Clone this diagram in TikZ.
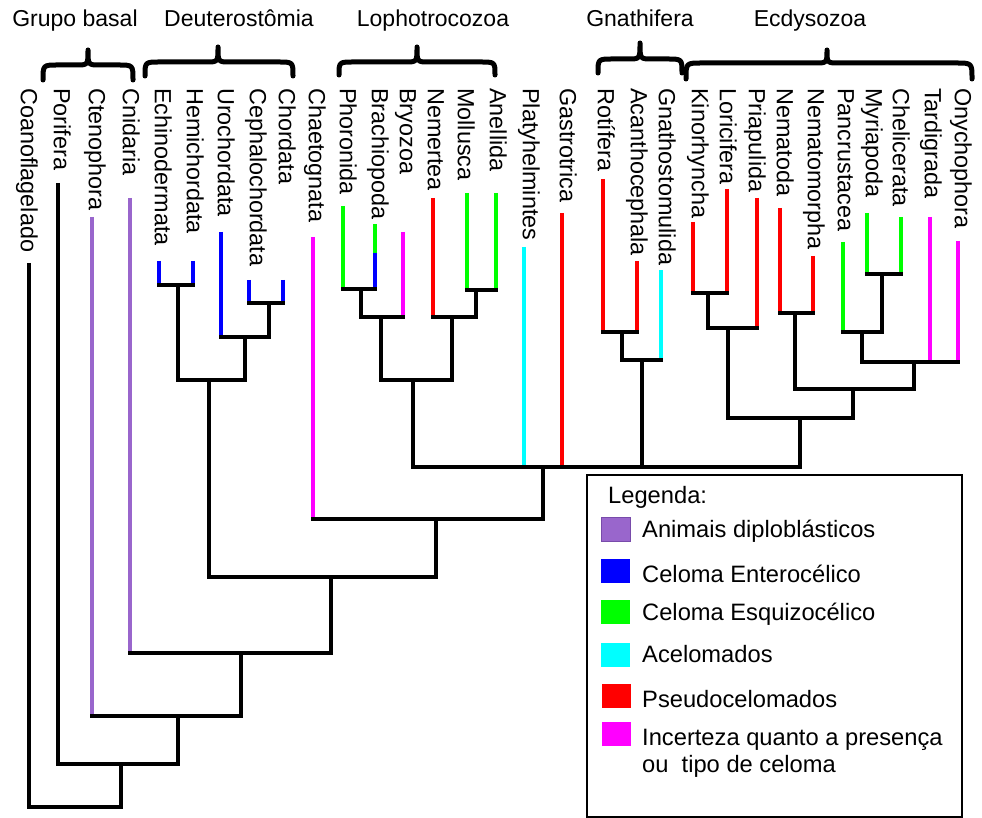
\documentclass[tikz,border=0pt]{standalone}
\usepackage{fontspec}
\setmainfont{Liberation Sans}
\definecolor{cpur}{RGB}{153,102,204}
\definecolor{cpurd}{RGB}{120,75,170}
\definecolor{cblu}{RGB}{0,0,255}
\definecolor{cgrn}{RGB}{0,255,0}
\definecolor{ccya}{RGB}{0,255,255}
\definecolor{cred}{RGB}{255,0,0}
\definecolor{cmag}{RGB}{255,0,255}
\begin{document}
\begin{tikzpicture}[x=1pt,y=-1pt,
  lab/.style={rotate=-90,anchor=west,inner sep=0pt,text height=16.5pt,text depth=0pt,font=\fontsize{23.4}{27}\selectfont},
  hdr/.style={anchor=base,inner sep=0pt,font=\fontsize{23}{27}\selectfont},
  lt/.style={anchor=base west,inner sep=0pt,font=\fontsize{23.7}{27}\selectfont},
  sw/.style={minimum width=29pt,minimum height=24pt,inner sep=0pt},
  st/.style={line width=4.2pt},
  br/.style={line width=4.2pt,line cap=rect},
  brace/.style={line width=5pt,line join=round,line cap=round}]
\useasboundingbox (0,0) rectangle (982,818);
% ---------- headers ----------
\node[hdr] (hGB) at (75,27) {Grupo basal};
\node[hdr] (hDe) at (239,27) {Deuterostômia};
\node[hdr] (hLo) at (433,27) {Lophotrocozoa};
\node[hdr] (hGn) at (640,27) {Gnathifera};
\node[hdr] (hEc) at (810,27) {Ecdysozoa};
% ---------- braces ----------
\draw[brace] (43,80) .. controls (43,65) .. (58,65) -- (76,65) .. controls (88,65) .. (88,50) .. controls (88,65) .. (100,65) -- (118,65) .. controls (133,65) .. (133,80);
\draw[brace] (145,76) .. controls (145,62) .. (160,62) -- (206,62) .. controls (218,62) .. (218,47) .. controls (218,62) .. (230,62) -- (278,62) .. controls (293,62) .. (293,76);
\draw[brace] (339,75) .. controls (339,62) .. (354,62) -- (405,62) .. controls (417,62) .. (417,47) .. controls (417,62) .. (429,62) -- (480,62) .. controls (495,62) .. (495,75);
\draw[brace] (598,73) .. controls (598,59) .. (613,59) -- (628,59) .. controls (640,59) .. (640,43) .. controls (640,59) .. (652,59) -- (667,59) .. controls (682,59) .. (682,73);
\draw[brace] (686,79) .. controls (686,63) .. (702,63) -- (815,63) .. controls (827,63) .. (827,50) .. controls (827,63) .. (839,63) -- (956,63) .. controls (972,63) .. (972,79);
% ---------- taxon labels ----------
\node[lab] (Lcoa) at (29,88) {Coanoflagelado};
\node[lab] (Lpor) at (62,88) {Porifera};
\node[lab] (Lcte) at (97,88) {Ctenophora};
\node[lab] (Lcni) at (131,88) {Cnidaria};
\node[lab] (Lech) at (163,88) {Echinodermata};
\node[lab] (Lhem) at (195,88) {Hemichordata};
\node[lab] (Luro) at (226,88) {Urochordata};
\node[lab] (Lcep) at (258,88) {Cephalochordata};
\node[lab] (Lcho) at (287,88) {Chordata};
\node[lab] (Lcha) at (317,88) {Chaetognata};
\node[lab] (Lpho) at (348,88) {Phoronida};
\node[lab] (Lbra) at (380,88) {Brachiopoda};
\node[lab] (Lbry) at (408,88) {Bryozoa};
\node[lab] (Lnmr) at (436,88) {Nemertea};
\node[lab] (Lmol) at (466,88) {Mollusca};
\node[lab] (Lane) at (498,88) {Anellida};
\node[lab] (Lpla) at (531,88) {Platyhelmintes};
\node[lab] (Lgas) at (568,88) {Gastrotrica};
\node[lab] (Lrot) at (606,88) {Rotífera};
\node[lab] (Laca) at (639,88) {Acanthocephala};
\node[lab] (Lgns) at (667,88) {Gnathostomulida};
\node[lab] (Lkin) at (700,88) {Kinorhyncha};
\node[lab] (Llor) at (728,88) {Loricifera};
\node[lab] (Lpri) at (757,88) {Priapulida};
\node[lab] (Lnmt) at (785,88) {Nematoda};
\node[lab] (Lnmm) at (816,88) {Nematomorpha};
\node[lab] (Lpan) at (846,88) {Pancrustacea};
\node[lab] (Lmyr) at (874,88) {Myriapoda};
\node[lab] (Lche) at (901,88) {Chelicerata};
\node[lab] (Ltar) at (933,88) {Tardigrada};
\node[lab] (Lony) at (963,88) {Onychophora};
% ---------- tips ----------
\coordinate (coa) at (29,263);
\coordinate (por) at (58,183);
\coordinate (cte) at (92,217);
\coordinate (cni) at (130,198);
\coordinate (ech) at (159,261);
\coordinate (hem) at (193,261);
\coordinate (uro) at (221,232);
\coordinate (cep) at (249,280);
\coordinate (cho) at (283,280);
\coordinate (cha) at (313,237);
\coordinate (pho) at (343,206);
\coordinate (bra) at (375,224);
\coordinate (braB) at (375,253);
\coordinate (bry) at (403,232);
\coordinate (nmr) at (433,198);
\coordinate (mol) at (467,193);
\coordinate (ane) at (496,193);
\coordinate (pla) at (524,247);
\coordinate (gas) at (562,213);
\coordinate (rot) at (603,179);
\coordinate (aca) at (637,261);
\coordinate (gns) at (661,270);
\coordinate (kin) at (693,222);
\coordinate (lor) at (727,189);
\coordinate (pri) at (757,198);
\coordinate (nmt) at (780,208);
\coordinate (nmm) at (813,256);
\coordinate (pan) at (843,242);
\coordinate (myr) at (867,213);
\coordinate (che) at (901,217);
\coordinate (tar) at (930,217);
\coordinate (ony) at (958,241);
% ---------- internal nodes ----------
\coordinate (nEH) at (178,285);
\coordinate (nCC) at (269,303);
\coordinate (nCh) at (245,337);
\coordinate (nDe) at (209,380);
\coordinate (nPB) at (361,289);
\coordinate (nL1) at (381,317);
\coordinate (nMA) at (476,290);
\coordinate (nL2) at (452,317);
\coordinate (nLo) at (413,380);
\coordinate (nRA) at (622,332);
\coordinate (nGn) at (642,360);
\coordinate (nKL) at (708,293);
\coordinate (nSc) at (728,328);
\coordinate (nNm) at (795,313);
\coordinate (nMC) at (882,274);
\coordinate (nAr) at (862,332);
\coordinate (nPa) at (914,362);
\coordinate (nNP) at (853,389);
\coordinate (nEc) at (800,418);
\coordinate (nPr) at (543,467);
\coordinate (nPC) at (436,519);
\coordinate (nBi) at (331,577);
\coordinate (nCB) at (241,653);
\coordinate (nEu) at (178,716);
\coordinate (nMe) at (121,764);
\coordinate (nRo) at (75,807);
% ---------- terminal stems ----------
\draw[st] (coa) -- (coa |- nRo);
\draw[st] (por) -- (por |- nMe);
\draw[st,cpur] (cte) -- (cte |- nEu);
\draw[st,cpur] (cni) -- (cni |- nCB);
\draw[st,cblu] (ech) -- (ech |- nEH);
\draw[st,cblu] (hem) -- (hem |- nEH);
\draw[st,cblu] (uro) -- (uro |- nCh);
\draw[st,cblu] (cep) -- (cep |- nCC);
\draw[st,cblu] (cho) -- (cho |- nCC);
\draw[st,cmag] (cha) -- (cha |- nPC);
\draw[st,cgrn] (pho) -- (pho |- nPB);
\draw[st,cgrn] (bra) -- (braB);
\draw[st,cblu] (braB) -- (bra |- nPB);
\draw[st,cmag] (bry) -- (bry |- nL1);
\draw[st,cred] (nmr) -- (nmr |- nL2);
\draw[st,cgrn] (mol) -- (mol |- nMA);
\draw[st,cgrn] (ane) -- (ane |- nMA);
\draw[st,ccya] (pla) -- (pla |- nPr);
\draw[st,cred] (gas) -- (gas |- nPr);
\draw[st,cred] (rot) -- (rot |- nRA);
\draw[st,cred] (aca) -- (aca |- nRA);
\draw[st,ccya] (gns) -- (gns |- nGn);
\draw[st,cred] (kin) -- (kin |- nKL);
\draw[st,cred] (lor) -- (lor |- nKL);
\draw[st,cred] (pri) -- (pri |- nSc);
\draw[st,cred] (nmt) -- (nmt |- nNm);
\draw[st,cred] (nmm) -- (nmm |- nNm);
\draw[st,cgrn] (pan) -- (pan |- nAr);
\draw[st,cgrn] (myr) -- (myr |- nMC);
\draw[st,cgrn] (che) -- (che |- nMC);
\draw[st,cmag] (tar) -- (tar |- nPa);
\draw[st,cmag] (ony) -- (ony |- nPa);
% ---------- internal stems ----------
\draw[st] (nMe) -- (nMe |- nRo);
\draw[st] (nEu) -- (nEu |- nMe);
\draw[st] (nCB) -- (nCB |- nEu);
\draw[st] (nBi) -- (nBi |- nCB);
\draw[st] (nDe) -- (nDe |- nBi);
\draw[st] (nPC) -- (nPC |- nBi);
\draw[st] (nPr) -- (nPr |- nPC);
\draw[st] (nLo) -- (nLo |- nPr);
\draw[st] (nGn) -- (nGn |- nPr);
\draw[st] (nEc) -- (nEc |- nPr);
\draw[st] (nEH) -- (nEH |- nDe);
\draw[st] (nCh) -- (nCh |- nDe);
\draw[st] (nCC) -- (nCC |- nCh);
\draw[st] (nL1) -- (nL1 |- nLo);
\draw[st] (nL2) -- (nL2 |- nLo);
\draw[st] (nPB) -- (nPB |- nL1);
\draw[st] (nMA) -- (nMA |- nL2);
\draw[st] (nRA) -- (nRA |- nGn);
\draw[st] (nSc) -- (nSc |- nEc);
\draw[st] (nNP) -- (nNP |- nEc);
\draw[st] (nKL) -- (nKL |- nSc);
\draw[st] (nNm) -- (nNm |- nNP);
\draw[st] (nPa) -- (nPa |- nNP);
\draw[st] (nAr) -- (nAr |- nPa);
\draw[st] (nMC) -- (nMC |- nAr);
% ---------- bars ----------
\draw[br] (coa |- nRo) -- (nMe |- nRo);
\draw[br] (por |- nMe) -- (nEu |- nMe);
\draw[br] (cte |- nEu) -- (nCB |- nEu);
\draw[br] (cni |- nCB) -- (nBi |- nCB);
\draw[br] (nDe |- nBi) -- (nPC |- nBi);
\draw[br] (cha |- nPC) -- (nPr |- nPC);
\draw[br] (nLo |- nPr) -- (nEc |- nPr);
\draw[br] (nEH |- nDe) -- (nCh |- nDe);
\draw[br] (ech |- nEH) -- (hem |- nEH);
\draw[br] (uro |- nCh) -- (nCC |- nCh);
\draw[br] (cep |- nCC) -- (cho |- nCC);
\draw[br] (nL1 |- nLo) -- (nL2 |- nLo);
\draw[br] (nPB |- nL1) -- (bry |- nL1);
\draw[br] (pho |- nPB) -- (bra |- nPB);
\draw[br] (nmr |- nL2) -- (nMA |- nL2);
\draw[br] (mol |- nMA) -- (ane |- nMA);
\draw[br] (nRA |- nGn) -- (gns |- nGn);
\draw[br] (rot |- nRA) -- (aca |- nRA);
\draw[br] (nSc |- nEc) -- (nNP |- nEc);
\draw[br] (nKL |- nSc) -- (pri |- nSc);
\draw[br] (kin |- nKL) -- (lor |- nKL);
\draw[br] (nNm |- nNP) -- (nPa |- nNP);
\draw[br] (nmt |- nNm) -- (nmm |- nNm);
\draw[br] (nAr |- nPa) -- (ony |- nPa);
\draw[br] (pan |- nAr) -- (nMC |- nAr);
\draw[br] (myr |- nMC) -- (che |- nMC);
% ---------- legend ----------
\draw[line width=1.2pt] (587,475) rectangle (962,817);
\node[lt] (tL) at (608,503) {Legenda:};
\node[sw,fill=cpur,draw=cpurd,line width=0.8pt] (s1) at (615.5,529) {};
\node[sw,fill=cblu] (s2) at (615.5,571) {};
\node[sw,fill=cgrn] (s3) at (615.5,612) {};
\node[sw,fill=ccya] (s4) at (615.5,654.5) {};
\node[sw,fill=cred] (s5) at (616,695.5) {};
\node[sw,fill=cmag] (s6) at (616,734) {};
\node[lt] (t1) at (642,537) {Animais diploblásticos};
\node[lt] (t2) at (642,582) {Celoma Enterocélico};
\node[lt] (t3) at (642,620) {Celoma Esquizocélico};
\node[lt] (t4) at (642,662) {Acelomados};
\node[lt] (t5) at (642,707) {Pseudocelomados};
\node[lt] (t6) at (642,745) {Incerteza quanto a presença};
\node[lt] (t7) at (642,772) {ou\ \ tipo de celoma};
\end{tikzpicture}
\end{document}
